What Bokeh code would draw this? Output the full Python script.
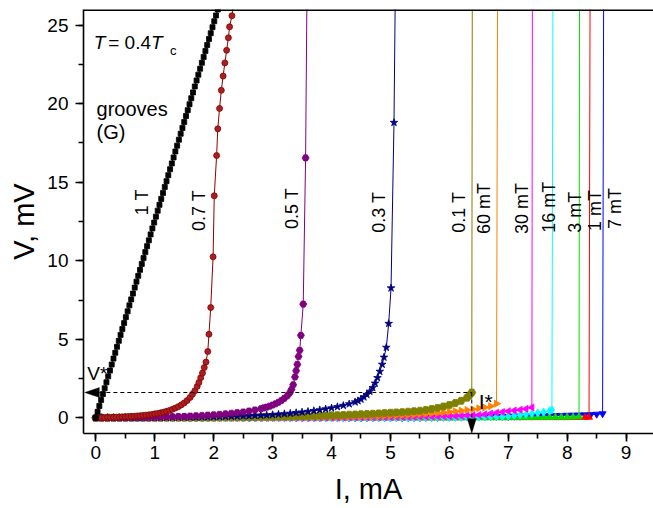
import math
from bokeh.plotting import figure
from bokeh.models import (ColumnDataSource, LinearAxis, SingleIntervalTicker, Label,
                          Range1d, PolyAnnotation, Span)
from bokeh.embed import file_html
from bokeh.resources import INLINE

FONT = "Liberation Sans"

# ---------------- data (I in mA, V in mV) ----------------
I_grid = [0.0, 0.1, 0.2, 0.3, 0.4, 0.5, 0.6, 0.7, 0.8, 0.9,
          1.0, 1.1, 1.2, 1.3, 1.4, 1.5, 1.6, 1.7, 1.8, 1.9,
          2.0, 2.1, 2.2, 2.3, 2.4, 2.5, 2.6, 2.7, 2.8, 2.9,
          3.0, 3.1, 3.2, 3.3, 3.4, 3.5, 3.6, 3.7, 3.8, 3.9,
          4.0, 4.1, 4.2, 4.3, 4.4, 4.5, 4.6, 4.7, 4.8, 4.9,
          5.0, 5.1, 5.2, 5.3, 5.4, 5.5, 5.6, 5.7, 5.8, 5.9,
          6.0, 6.1, 6.2, 6.3, 6.4, 6.5, 6.6, 6.7, 6.8, 6.9,
          7.0, 7.1, 7.2, 7.3, 7.4, 7.5, 7.6, 7.7, 7.8, 7.9,
          8.0, 8.1, 8.2, 8.3, 8.4, 8.5, 8.6]

# 1 T
I_1T = [0.00, 0.03, 0.06, 0.09, 0.12, 0.15, 0.18, 0.21, 0.24, 0.27,
        0.30, 0.33, 0.36, 0.39, 0.42, 0.45, 0.48, 0.51, 0.54, 0.57,
        0.60, 0.63, 0.66, 0.69, 0.72, 0.75, 0.78, 0.81, 0.84, 0.87,
        0.90, 0.93, 0.96, 0.99, 1.02, 1.05, 1.08, 1.11, 1.14, 1.17,
        1.20, 1.23, 1.26, 1.29, 1.32, 1.35, 1.38, 1.41, 1.44, 1.47,
        1.50, 1.53, 1.56, 1.59, 1.62, 1.65, 1.68, 1.71, 1.74, 1.77,
        1.80, 1.83, 1.86, 1.89, 1.92, 1.95, 1.98, 2.01, 2.04, 2.07, 2.10]
V_1T = [0.00, 0.38, 0.75, 1.13, 1.51, 1.88, 2.26, 2.64, 3.01, 3.39,
        3.77, 4.14, 4.52, 4.90, 5.28, 5.65, 6.03, 6.41, 6.78, 7.16,
        7.54, 7.91, 8.29, 8.67, 9.04, 9.42, 9.80, 10.17, 10.55, 10.93,
        11.30, 11.68, 12.06, 12.43, 12.81, 13.19, 13.56, 13.94, 14.32, 14.70,
        15.07, 15.45, 15.83, 16.20, 16.58, 16.96, 17.33, 17.71, 18.09, 18.46,
        18.84, 19.22, 19.59, 19.97, 20.35, 20.72, 21.10, 21.48, 21.85, 22.23,
        22.61, 22.98, 23.36, 23.74, 24.12, 24.49, 24.87, 25.25, 25.62, 26.00, 26.38]

# 0.7 T
I_07T = [0.00, 0.05, 0.10, 0.15, 0.20, 0.25, 0.30, 0.35, 0.40, 0.45,
         0.50, 0.55, 0.60, 0.65, 0.70, 0.75, 0.80, 0.85, 0.90, 0.95,
         1.00, 1.05, 1.10, 1.15, 1.20, 1.25, 1.30, 1.35, 1.40, 1.45,
         1.50, 1.55, 1.60, 1.64, 1.68, 1.72, 1.75, 1.78, 1.81, 1.84,
         1.87, 1.90, 1.92, 1.95, 1.99, 2.01, 2.05, 2.07, 2.10, 2.13,
         2.16, 2.19, 2.22, 2.25, 2.27, 2.31, 2.34]
V_07T = [0.00, 0.00, 0.01, 0.01, 0.02, 0.02, 0.03, 0.04, 0.05, 0.06,
         0.07, 0.08, 0.09, 0.10, 0.12, 0.13, 0.15, 0.17, 0.19, 0.21,
         0.25, 0.28, 0.32, 0.36, 0.41, 0.47, 0.54, 0.62, 0.71, 0.82,
         0.95, 1.10, 1.30, 1.50, 1.72, 2.00, 2.25, 2.55, 2.85, 3.20,
         3.55, 4.22, 5.32, 7.02, 10.25, 14.14, 16.70, 18.40, 19.70, 20.85,
         21.76, 22.60, 23.40, 24.20, 24.90, 25.60, 26.30]

# 0.5 T
I_05T = [0.0, 0.1, 0.2, 0.3, 0.4, 0.5, 0.6, 0.7, 0.8, 0.9,
         1.0, 1.1, 1.2, 1.3, 1.4, 1.5, 1.6, 1.7, 1.8, 1.9,
         2.0, 2.1, 2.2, 2.3, 2.4, 2.5, 2.6, 2.7, 2.8, 2.85,
         2.9, 2.95, 3.0, 3.05, 3.1, 3.15, 3.2, 3.25, 3.29, 3.32,
         3.35, 3.38, 3.40, 3.42, 3.44, 3.46, 3.48, 3.52, 3.56, 3.59]
V_05T = [0.00, 0.00, 0.00, 0.01, 0.01, 0.01, 0.02, 0.02, 0.03, 0.03,
         0.04, 0.05, 0.06, 0.07, 0.08, 0.09, 0.11, 0.13, 0.15, 0.17,
         0.19, 0.22, 0.25, 0.29, 0.33, 0.37, 0.43, 0.50, 0.58, 0.63,
         0.68, 0.74, 0.81, 0.89, 0.99, 1.10, 1.24, 1.40, 1.58, 1.80,
         2.10, 2.60, 3.00, 3.40, 3.90, 4.30, 5.25, 7.24, 16.55, 30.0]

# 0.3 T (grid up to 4.4, then tail)
I_03T_tail = [4.45, 4.5, 4.55, 4.6, 4.65, 4.7, 4.74, 4.78, 4.82, 4.86,
              4.89, 4.93, 4.97, 5.01, 5.06, 5.09]
V_03T = [0.00, 0.00, 0.00, 0.00, 0.00, 0.01, 0.01, 0.01, 0.01, 0.02,
         0.02, 0.02, 0.02, 0.03, 0.03, 0.03, 0.04, 0.04, 0.05, 0.05,
         0.06, 0.07, 0.08, 0.09, 0.10, 0.11, 0.12, 0.14, 0.15, 0.17,
         0.19, 0.22, 0.25, 0.28, 0.32, 0.36, 0.40, 0.45, 0.50, 0.56,
         0.62, 0.70, 0.78, 0.88, 1.00,
         1.08, 1.18, 1.32, 1.48, 1.68, 1.92, 2.20, 2.55, 2.95, 3.40,
         3.85, 4.48, 6.00, 8.26, 18.80, 30.0]

# 0.1 T
I_01T_tail = [6.34, 6.38, 6.39]
V_01T = [0.00, 0.00, 0.00, 0.00, 0.00, 0.00, 0.00, 0.00, 0.00, 0.00,
         0.00, 0.00, 0.01, 0.01, 0.01, 0.01, 0.01, 0.02, 0.02, 0.02,
         0.02, 0.03, 0.03, 0.03, 0.04, 0.04, 0.05, 0.05, 0.06, 0.06,
         0.07, 0.08, 0.08, 0.09, 0.10, 0.11, 0.12, 0.13, 0.14, 0.15,
         0.16, 0.17, 0.18, 0.20, 0.21, 0.23, 0.24, 0.26, 0.28, 0.30,
         0.32, 0.34, 0.36, 0.39, 0.42, 0.45, 0.50, 0.56, 0.63, 0.72,
         0.82, 0.94, 1.08, 1.28,
         1.42, 1.61, 30.0]

# 60 mT
I_60mT_tail = [6.82]
V_60mT = [0.00, 0.00, 0.00, 0.00, 0.00, 0.00, 0.00, 0.00, 0.00, 0.00,
          0.00, 0.00, 0.00, 0.00, 0.00, 0.00, 0.00, 0.00, 0.00, 0.00,
          0.00, 0.01, 0.01, 0.01, 0.01, 0.01, 0.02, 0.02, 0.02, 0.02,
          0.03, 0.03, 0.03, 0.04, 0.04, 0.04, 0.05, 0.05, 0.06, 0.06,
          0.07, 0.07, 0.08, 0.08, 0.09, 0.10, 0.10, 0.11, 0.12, 0.13,
          0.14, 0.15, 0.17, 0.18, 0.20, 0.22, 0.25, 0.28, 0.31, 0.34,
          0.38, 0.42, 0.46, 0.50, 0.54, 0.60, 0.66, 0.74, 0.90,
          30.0]

# 30 mT
I_30mT_tail = [7.41]
V_30mT = [0.00, 0.00, 0.00, 0.00, 0.00, 0.00, 0.00, 0.00, 0.00, 0.00,
          0.00, 0.00, 0.00, 0.00, 0.00, 0.00, 0.00, 0.00, 0.00, 0.00,
          0.00, 0.00, 0.00, 0.00, 0.00, 0.00, 0.00, 0.00, 0.00, 0.00,
          0.00, 0.01, 0.01, 0.01, 0.01, 0.01, 0.01, 0.01, 0.01, 0.01,
          0.01, 0.01, 0.02, 0.02, 0.02, 0.02, 0.03, 0.03, 0.03, 0.04,
          0.04, 0.05, 0.05, 0.06, 0.06, 0.07, 0.08, 0.08, 0.09, 0.10,
          0.10, 0.11, 0.12, 0.14, 0.16, 0.18, 0.22, 0.27, 0.32, 0.37,
          0.42, 0.46, 0.51, 0.57, 0.66,
          30.0]

# 16 mT
I_16mT_tail = [7.74, 7.76]
V_16mT = [0.00, 0.00, 0.00, 0.00, 0.00, 0.00, 0.00, 0.00, 0.00, 0.00,
          0.00, 0.00, 0.00, 0.00, 0.00, 0.00, 0.00, 0.00, 0.00, 0.00,
          0.00, 0.00, 0.00, 0.00, 0.00, 0.00, 0.00, 0.00, 0.00, 0.00,
          0.00, 0.00, 0.00, 0.00, 0.00, 0.00, 0.00, 0.00, 0.00, 0.00,
          0.00, 0.01, 0.01, 0.01, 0.01, 0.01, 0.01, 0.01, 0.01, 0.01,
          0.01, 0.01, 0.02, 0.02, 0.02, 0.02, 0.03, 0.03, 0.03, 0.03,
          0.03, 0.03, 0.03, 0.04, 0.04, 0.05, 0.06, 0.07, 0.08, 0.09,
          0.11, 0.14, 0.18, 0.22, 0.27, 0.32, 0.37, 0.44,
          0.50, 30.0]

# 3 mT
I_3mT_tail = [8.21]
V_3mT = [0.00, 0.00, 0.00, 0.00, 0.00, 0.00, 0.00, 0.00, 0.00, 0.00,
         0.00, 0.00, 0.00, 0.00, 0.00, 0.00, 0.00, 0.00, 0.00, 0.00,
         0.00, 0.00, 0.00, 0.00, 0.00, 0.00, 0.00, 0.00, 0.00, 0.00,
         0.00, 0.00, 0.00, 0.00, 0.00, 0.00, 0.00, 0.00, 0.00, 0.00,
         0.00, 0.00, 0.00, 0.00, 0.00, 0.00, 0.00, 0.00, 0.00, 0.00,
         0.00, 0.00, 0.00, 0.00, 0.00, 0.00, 0.00, 0.00, 0.00, 0.00,
         0.00, 0.01, 0.01, 0.01, 0.01, 0.01, 0.01, 0.01, 0.01, 0.01,
         0.01, 0.02, 0.02, 0.02, 0.02, 0.03, 0.03, 0.03, 0.04, 0.04,
         0.04, 0.05, 0.06,
         30.0]

# 1 mT
I_1mT_tail = [8.37, 8.39]
V_1mT = [0.00, 0.00, 0.00, 0.00, 0.00, 0.00, 0.00, 0.00, 0.00, 0.00,
         0.00, 0.00, 0.00, 0.00, 0.00, 0.00, 0.00, 0.00, 0.00, 0.00,
         0.00, 0.00, 0.00, 0.00, 0.00, 0.00, 0.00, 0.00, 0.00, 0.00,
         0.00, 0.00, 0.00, 0.00, 0.00, 0.00, 0.00, 0.00, 0.00, 0.00,
         0.00, 0.00, 0.00, 0.00, 0.00, 0.00, 0.00, 0.00, 0.00, 0.00,
         0.00, 0.00, 0.00, 0.00, 0.00, 0.00, 0.00, 0.00, 0.00, 0.00,
         0.00, 0.00, 0.00, 0.01, 0.01, 0.01, 0.01, 0.01, 0.01, 0.01,
         0.01, 0.01, 0.01, 0.01, 0.01, 0.01, 0.01, 0.01, 0.01, 0.01,
         0.01, 0.02, 0.02, 0.02,
         0.03, 30.0]

# 7 mT
I_7mT_tail = [8.62]
V_7mT = [0.00, 0.00, 0.00, 0.00, 0.00, 0.00, 0.00, 0.00, 0.00, 0.00,
         0.00, 0.00, 0.00, 0.00, 0.00, 0.00, 0.00, 0.00, 0.00, 0.00,
         0.00, 0.00, 0.00, 0.00, 0.00, 0.00, 0.00, 0.00, 0.00, 0.00,
         0.00, 0.00, 0.00, 0.00, 0.00, 0.00, 0.00, 0.00, 0.00, 0.00,
         0.00, 0.00, 0.00, 0.00, 0.00, 0.00, 0.00, 0.00, 0.00, 0.00,
         0.00, 0.01, 0.01, 0.02, 0.02, 0.02, 0.03, 0.03, 0.03, 0.04,
         0.04, 0.05, 0.05, 0.06, 0.06, 0.07, 0.07, 0.08, 0.08, 0.09,
         0.09, 0.10, 0.10, 0.11, 0.11, 0.12, 0.12, 0.13, 0.14, 0.15,
         0.16, 0.17, 0.18, 0.19, 0.21, 0.23, 0.26,
         30.0]


def with_grid(V, tail):
    n = len(V) - len(tail)
    return I_grid[:n] + tail


# field labels
field_names = ["1 T", "0.7 T", "0.5 T", "0.3 T", "0.1 T", "60 mT", "30 mT",
               "16 mT", "3 mT", "1 mT", "7 mT"]

# ---------------- figure ----------------
p = figure(width=653, height=508, output_backend="svg", toolbar_location=None,
           x_range=Range1d(-0.209, 9.464), y_range=Range1d(-1.0, 26.0),
           min_border_left=83, min_border_right=0, min_border_top=9,
           min_border_bottom=75, x_axis_location=None, y_axis_location=None)
p.outline_line_color = None
p.background_fill_color = "white"
p.border_fill_color = "white"
p.grid.visible = False


def style_axis(ax):
    ax.axis_line_width = 1.6
    ax.axis_line_color = "black"
    ax.major_tick_line_width = 1.6
    ax.minor_tick_line_width = 1.6
    ax.major_tick_line_color = "black"
    ax.minor_tick_line_color = "black"
    ax.major_tick_in = 0
    ax.major_tick_out = 8
    ax.minor_tick_in = 0
    ax.minor_tick_out = 5
    ax.major_label_text_font = FONT
    ax.major_label_text_font_size = "19px"
    ax.major_label_text_color = "black"
    ax.axis_label_text_font = FONT
    ax.axis_label_text_font_size = "29px"
    ax.axis_label_text_font_style = "normal"
    ax.axis_label_text_color = "black"


xaxis = LinearAxis(ticker=SingleIntervalTicker(interval=1, num_minor_ticks=2),
                   axis_label="I, mA")
style_axis(xaxis)
xaxis.major_label_standoff = 4
xaxis.axis_label_standoff = 11
p.add_layout(xaxis, "below")

yaxis = LinearAxis(ticker=SingleIntervalTicker(interval=5, num_minor_ticks=2),
                   axis_label="V, mV")
style_axis(yaxis)
yaxis.major_label_standoff = 7
yaxis.axis_label_standoff = 4
p.add_layout(yaxis, "left")

# top frame line
p.add_layout(Span(location=p.y_range.end, dimension="width", line_color="black",
                  line_width=3.2))

# ---------------- series ----------------
series = [
    ("7 mT", with_grid(V_7mT, I_7mT_tail), V_7mT, "#0000FF", "inverted_triangle", 7, 0.0),
    ("1 mT", with_grid(V_1mT, I_1mT_tail), V_1mT, "#FF0000", "triangle", 7, 0.0),
    ("3 mT", with_grid(V_3mT, I_3mT_tail), V_3mT, "#00E000", "triangle", 7, 0.0),
    ("16 mT", with_grid(V_16mT, I_16mT_tail), V_16mT, "#00FFFF", "diamond", 8, 0.0),
    ("30 mT", with_grid(V_30mT, I_30mT_tail), V_30mT, "#FF00FF", "triangle", 7, math.pi / 2),
    ("60 mT", with_grid(V_60mT, I_60mT_tail), V_60mT, "#FF8000", "triangle", 7, -math.pi / 2),
    ("0.1 T", with_grid(V_01T, I_01T_tail), V_01T, "#808000", "hex", 8, 0.0),
    ("0.3 T", with_grid(V_03T, I_03T_tail), V_03T, "#000080", "star", 8, 0.0),
    ("0.5 T", I_05T, V_05T, "#800080", "hex", 7, 0.0),
    ("0.7 T", I_07T, V_07T, "#8B0000", "circle", 6, 0.0),
    ("1 T", I_1T, V_1T, "#000000", "square", 5, 0.0),
]

for name, I, V, col, mk, sz, ang in series:
    src = ColumnDataSource(dict(I=I, V=V))
    p.line("I", "V", source=src, line_color=col, line_width=1)
    fill = col
    if name == "0.7 T":
        fill = "#A82020"
    p.scatter("I", "V", source=src, marker=mk, size=sz, fill_color=fill,
              line_color=col, line_width=0.8, angle=ang)

# ---------------- field labels (rotated) ----------------
lab_x = [0.787, 1.759, 3.333, 4.802, 6.160, 6.584, 7.235, 7.687, 8.140, 8.479, 8.818]
lab_y = [13.73, 13.20, 13.33, 13.09, 13.09, 13.33, 13.33, 13.41, 13.09, 13.20, 13.33]
for t, x, y in zip(field_names, lab_x, lab_y):
    p.add_layout(Label(x=x, y=y, text=t, angle=math.pi / 2, text_align="center",
                       text_baseline="middle", text_font=FONT,
                       text_font_size="18px", text_color="black"))

# ---------------- annotations ----------------
def txt(x, y, t, size="20px", style="normal", align="left"):
    p.add_layout(Label(x=x, y=y, text=t, text_font=FONT, text_font_size=size,
                       text_font_style=style, text_align=align,
                       text_baseline="alphabetic", text_color="black"))


txt(-0.034, 23.92, "T", "19px", "italic")
txt(0.210, 23.92, "= 0.4", "19px")
txt(0.935, 23.92, "T", "19px", "italic")
txt(1.260, 23.39, "c", "13px")
txt(0.012, 19.68, "grooves", "20px")
txt(0.012, 18.19, "(G)", "20px")

# critical point: last resistive point of the 0.1 T curve
I_star = with_grid(V_01T, I_01T_tail)[-2]
V_star = V_01T[-2]

p.line([0.06, I_star], [V_star, V_star], line_color="black", line_width=1,
       line_dash="4 3")
p.line([I_star, I_star], [V_star, -0.1], line_color="black", line_width=1,
       line_dash="4 3")

# arrow heads
p.add_layout(PolyAnnotation(xs=[-0.19, 0.06, 0.06], ys=[V_star, V_star + 0.32, V_star - 0.32],
                            fill_color="black", fill_alpha=1, line_color="black", line_width=1))
p.add_layout(PolyAnnotation(xs=[I_star - 0.075, I_star + 0.075, I_star], ys=[-0.06, -0.06, -1.0],
                            fill_color="black", fill_alpha=1, line_color="black", line_width=1))

txt(-0.146, 2.80, "V*", "19px")
txt(6.499, 1.06, "I*", "21px")

open("out.html", "w").write(file_html(p, INLINE))
